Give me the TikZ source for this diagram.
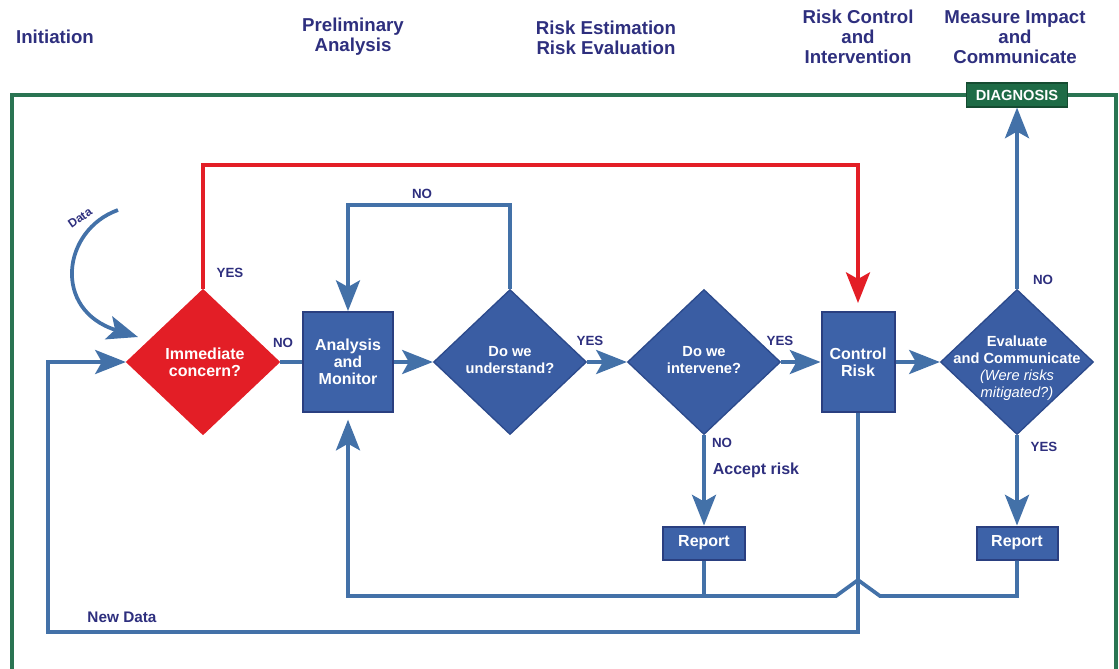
\documentclass[tikz,border=0pt]{standalone}
\usepackage{fontspec}
\setmainfont{Liberation Sans}
\usetikzlibrary{shapes.geometric,arrows.meta}
\definecolor{navy}{HTML}{2E2F7E}
\definecolor{lineblue}{HTML}{4371A8}
\definecolor{boxfill}{HTML}{3D62A8}
\definecolor{boxborder}{HTML}{2A3F80}
\definecolor{diafill}{HTML}{3A5DA3}
\definecolor{diaborder}{HTML}{2C4A8C}
\definecolor{alarm}{HTML}{E31E26}
\definecolor{framegreen}{HTML}{2A7452}
\definecolor{diaggreen}{HTML}{1E6B46}
\begin{document}
\begin{tikzpicture}[x=0.75pt,y=-0.75pt,
  hdr/.style={font=\fontsize{14}{15}\selectfont\bfseries, text=navy, align=center},
  boxnode/.style={draw=boxborder, line width=1.5pt, fill=boxfill, text=white,
    font=\fontsize{12}{12.75}\selectfont\bfseries, align=center, inner sep=0pt},
  dia/.style={diamond, draw=diaborder, fill=diafill, line width=1pt,
    minimum width=114.75pt, minimum height=108.75pt, inner sep=0pt},
  diatext/.style={text=white, align=center, font=\fontsize{11}{12.5}\selectfont\bfseries},
  flow/.style={draw=lineblue, line width=2.8pt},
  arr/.style={flow, -{Stealth[length=23pt,width=18pt,inset=5pt]}},
  redarr/.style={draw=alarm, line width=2.8pt, -{Stealth[length=23pt,width=18pt,inset=5pt]}},
  lbl/.style={font=\fontsize{10}{11}\selectfont\bfseries, text=navy},
  framel/.style={draw=framegreen, line width=2.6pt}
]
\useasboundingbox (0,0) rectangle (1119,668);

% headers
\node[hdr] (h1) at (55,37) {Initiation};
\node[hdr] (h2) at (353,37) {Preliminary\\Analysis};
\node[hdr] (h3) at (606,38) {Risk Estimation\\Risk Evaluation};
\node[hdr] (h4) at (858,37) {Risk Control\\and\\Intervention};
\node[hdr] (h5) at (1015,37) {Measure Impact\\and\\Communicate};

% frame
\draw[framel] (967,95) -- (12,95) -- (12,672);
\draw[framel] (1068,95) -- (1116,95) -- (1116,672);
\node[fill=diaggreen, draw=diaggreen!70!black, line width=0.8pt, text=white,
  font=\fontsize{11}{12}\selectfont\bfseries, minimum width=75.75pt, minimum height=18pt, inner sep=0pt]
  (diag) at (1017,95) {DIAGNOSIS};

% nodes
\node[dia, fill=alarm, draw=alarm] (imm) at (203,362) {};
\node[diatext, font=\fontsize{12}{13}\selectfont\bfseries] (immt) at (205,362) {Immediate\\concern?};
\node[boxnode, minimum width=67.5pt, minimum height=75pt] (ana) at (348,362) {Analysis\\and\\Monitor};
\node[dia] (und) at (510,362) {};
\node[diatext] (undt) at (510,360) {Do we\\understand?};
\node[dia] (int) at (704,362) {};
\node[diatext] (intt) at (704,360) {Do we\\intervene?};
\node[boxnode, minimum width=54.75pt, minimum height=75pt] (ctrl) at (858,362) {Control\\Risk};
\node[dia] (eva) at (1017,362) {};
\node[diatext, font=\fontsize{11}{12.75}\selectfont\bfseries] (evat) at (1017,368)
  {Evaluate\\and Communicate\\{\mdseries\itshape (Were risks}\\{\mdseries\itshape mitigated?)}};
\node[boxnode, minimum width=61.5pt, minimum height=24.75pt] (rep1) at (704,543) {Report};
\node[boxnode, minimum width=60.75pt, minimum height=24.75pt] (rep2) at (1017,543) {Report};

% helper coordinates
\coordinate (redtop) at (0,165);
\coordinate (notop) at (0,205);
\coordinate (bot) at (0,596);
\coordinate (hopR) at (880,596);
\coordinate (hopT) at (858,580);
\coordinate (hopL) at (836,596);
\coordinate (nd) at (48,632);
\coordinate (dstart) at (118,210);
\coordinate (dend) at (138,337);

% connectors
\draw[redarr, shorten >=6pt] (imm.north) -- (imm.north |- redtop) -| (ctrl.north);
\draw[arr] (und.north) -- (und.north |- notop) -| (ana.north);
\draw[flow] (imm.east) -- (ana.west);
\draw[arr] (ana.east) -- (und.west);
\draw[arr] (und.east) -- (int.west);
\draw[arr] (int.east) -- (ctrl.west);
\draw[arr] (ctrl.east) -- (eva.west);
\draw[arr] (eva.north) -- (diag.south);
\draw[arr] (eva.south) -- (rep2.north);
\draw[arr] (int.south) -- (rep1.north);
\draw[flow] (rep1.south) -- (rep1.south |- bot);
\draw[arr, shorten >=5pt] (rep2.south) |- (hopR) -- (hopT) -- (hopL) -| (ana.south);
\draw[arr] (ctrl.south) |- (nd) |- (imm.west);
\draw[arr] (dstart) .. controls (62,230) and (52,310) .. (dend);

% labels
\node[lbl] (l1) at (230,273) {YES};
\node[lbl] (l2) at (283,343) {NO};
\node[lbl] (l3) at (422,194) {NO};
\node[lbl] (l4) at (590,341) {YES};
\node[lbl] (l5) at (780,341) {YES};
\node[lbl] (l6) at (722,443) {NO};
\node[lbl, font=\fontsize{12}{13}\selectfont\bfseries] (l7) at (756,470) {Accept risk};
\node[lbl] (l8) at (1043,280) {NO};
\node[lbl] (l9) at (1044,447) {YES};
\node[lbl, font=\fontsize{11.5}{12}\selectfont\bfseries] (l10) at (122,617) {New Data};
\node[lbl, font=\fontsize{9}{10}\selectfont\bfseries, rotate=35, inner sep=1pt] (l11) at (80,218) {Data};
\end{tikzpicture}
\end{document}
